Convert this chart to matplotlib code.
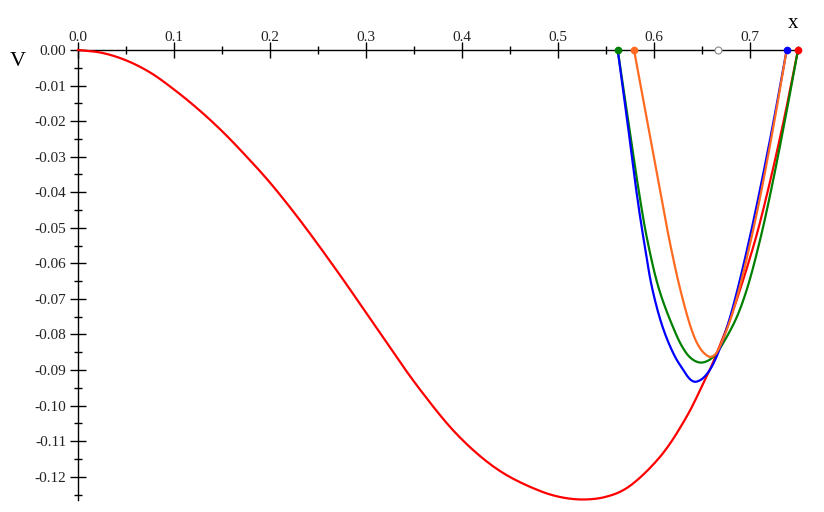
import matplotlib
matplotlib.use("Agg")
import numpy as np
import matplotlib.pyplot as plt
from matplotlib.ticker import MultipleLocator, FormatStrFormatter

plt.rcParams['font.family'] = ['Liberation Serif', 'DejaVu Serif']
plt.rcParams['axes.unicode_minus'] = False

# values
red_x = [0.0, 0.025, 0.05, 0.075, 0.1, 0.125, 0.15, 0.175, 0.2, 0.2313,
         0.2729, 0.3146, 0.3563, 0.398, 0.4396, 0.4813, 0.504, 0.5264, 0.549,
         0.5715, 0.6063, 0.634, 0.6514, 0.66, 0.666, 0.6774, 0.6896, 0.7063,
         0.7191, 0.7347, 0.75]
red_v = [0.0, -0.0008, -0.0029, -0.0063, -0.0111, -0.0166, -0.0228, -0.0298,
         -0.0373, -0.0479, -0.0633, -0.0796, -0.0955, -0.109, -0.1184,
         -0.124, -0.1258, -0.1264, -0.1257, -0.1232, -0.1144, -0.1031, -0.0937,
         -0.0888, -0.0848, -0.0770, -0.0674, -0.0526, -0.039, -0.0204, 0.0]

blue_x = [0.5622, 0.5725, 0.5815, 0.5893, 0.5985, 0.61, 0.622, 0.6306, 0.635,
          0.639, 0.6427, 0.647, 0.6514, 0.6583, 0.666, 0.6774, 0.6861, 0.6983,
          0.7094, 0.7236, 0.7382]
blue_v = [0.0, -0.0206, -0.0394, -0.0534, -0.0675, -0.0787, -0.0863, -0.09,
          -0.0918, -0.0929, -0.0933, -0.093, -0.0922, -0.0899, -0.0857, -0.0768,
          -0.0683, -0.0545, -0.0406, -0.0214, 0.0]

green_x = [0.5622, 0.5735, 0.584, 0.593, 0.6055, 0.621, 0.6295, 0.637, 0.644,
           0.6497, 0.656, 0.662, 0.666, 0.6844, 0.6965, 0.7105, 0.722, 0.7358,
           0.75]
green_v = [0.0, -0.0206, -0.0394, -0.0534, -0.0675, -0.0787, -0.0835, -0.0863,
           -0.0876, -0.0879, -0.0874, -0.0862, -0.085, -0.0762, -0.0675, -0.0534,
           -0.0394, -0.0206, 0.0]

orange_x = [0.5792, 0.5934, 0.6063, 0.616, 0.6275, 0.6392, 0.646, 0.652, 0.6583,
            0.663, 0.666, 0.6782, 0.6885, 0.701, 0.712, 0.725, 0.7382]
orange_v = [0.0, -0.0206, -0.0394, -0.0534, -0.0675, -0.0787, -0.083, -0.0852,
            -0.0863, -0.0858, -0.0848, -0.0769, -0.0675, -0.0534, -0.0394,
            -0.0206, 0.0]

dots_x = [0.5622, 0.5792, 0.7382, 0.75]
dots_c = ['#008000', '#ff6a21', '#0000ff', '#ff0000']
hollow_x = 0.6667


def smooth(xs, ys, n=12, k=3.7):
    # centripetal catmull-rom through the read points, only for a rounder line
    p = np.column_stack([xs, np.array(ys) * k])
    p = np.vstack([2 * p[0] - p[1], p, 2 * p[-1] - p[-2]])
    out = []
    for i in range(1, len(p) - 2):
        p0, p1, p2, p3 = p[i - 1], p[i], p[i + 1], p[i + 2]
        t0 = 0.0
        t1 = t0 + np.linalg.norm(p1 - p0) ** 0.5
        t2 = t1 + np.linalg.norm(p2 - p1) ** 0.5
        t3 = t2 + np.linalg.norm(p3 - p2) ** 0.5
        for t in np.linspace(t1, t2, n, endpoint=False):
            a1 = (t1 - t) / (t1 - t0) * p0 + (t - t0) / (t1 - t0) * p1
            a2 = (t2 - t) / (t2 - t1) * p1 + (t - t1) / (t2 - t1) * p2
            a3 = (t3 - t) / (t3 - t2) * p2 + (t - t2) / (t3 - t2) * p3
            b1 = (t2 - t) / (t2 - t0) * a1 + (t - t0) / (t2 - t0) * a2
            b2 = (t3 - t) / (t3 - t1) * a2 + (t - t1) / (t3 - t1) * a3
            out.append((t2 - t) / (t2 - t1) * b1 + (t - t1) / (t2 - t1) * b2)
    out.append(p[-2])
    out = np.array(out)
    return out[:, 0], out[:, 1] / k


fig = plt.figure(figsize=(8.24, 5.12), dpi=100)
ax = fig.add_axes([78 / 824, 1 - 499.5 / 512, 720 / 824, 449.5 / 512])

lw = 1.6
for xs, vs, c in [(red_x, red_v, '#ff0000'), (green_x, green_v, '#008000'),
                  (blue_x, blue_v, '#0000ff'), (orange_x, orange_v, '#ff6a21')]:
    sx, sv = smooth(xs, vs)
    ax.plot(sx, sv, color=c, lw=lw, clip_on=False, zorder=3)

for x, c in zip(dots_x, dots_c):
    ax.plot([x], [0], 'o', color=c, ms=4.5, clip_on=False, zorder=4)
ax.plot([hollow_x], [0], 'o', mfc='white', mec='#888888', mew=0.8, ms=5,
        clip_on=False, zorder=4)

ax.set_xlim(0, 0.75)
ax.set_ylim(-0.1264, 0)

for s in ['bottom', 'right']:
    ax.spines[s].set_visible(False)
for s in ['top', 'left']:
    ax.spines[s].set_linewidth(1.0)
    ax.spines[s].set_zorder(2)

ax.xaxis.tick_top()
ax.xaxis.set_major_locator(MultipleLocator(0.1))
ax.xaxis.set_minor_locator(MultipleLocator(0.05))
ax.xaxis.set_major_formatter(FormatStrFormatter('%.1f'))
ax.yaxis.set_major_locator(MultipleLocator(0.01))
ax.yaxis.set_minor_locator(MultipleLocator(0.005))
ax.yaxis.set_major_formatter(FormatStrFormatter('%.2f'))

ax.tick_params(which='major', direction='inout', length=11, width=1.0,
               labelsize=11, color='black', labelcolor='#222222')
ax.tick_params(which='minor', direction='inout', length=6, width=1.0)
ax.tick_params(axis='x', which='major', pad=-1)
ax.tick_params(axis='y', which='major', pad=3)

fig.text(18 / 824, 1 - 62 / 512, 'V', fontsize=16, ha='center', va='center')
fig.text(793 / 824, 1 - 24 / 512, 'x', fontsize=15, ha='center', va='center')

fig.savefig('out.png', dpi=100)
